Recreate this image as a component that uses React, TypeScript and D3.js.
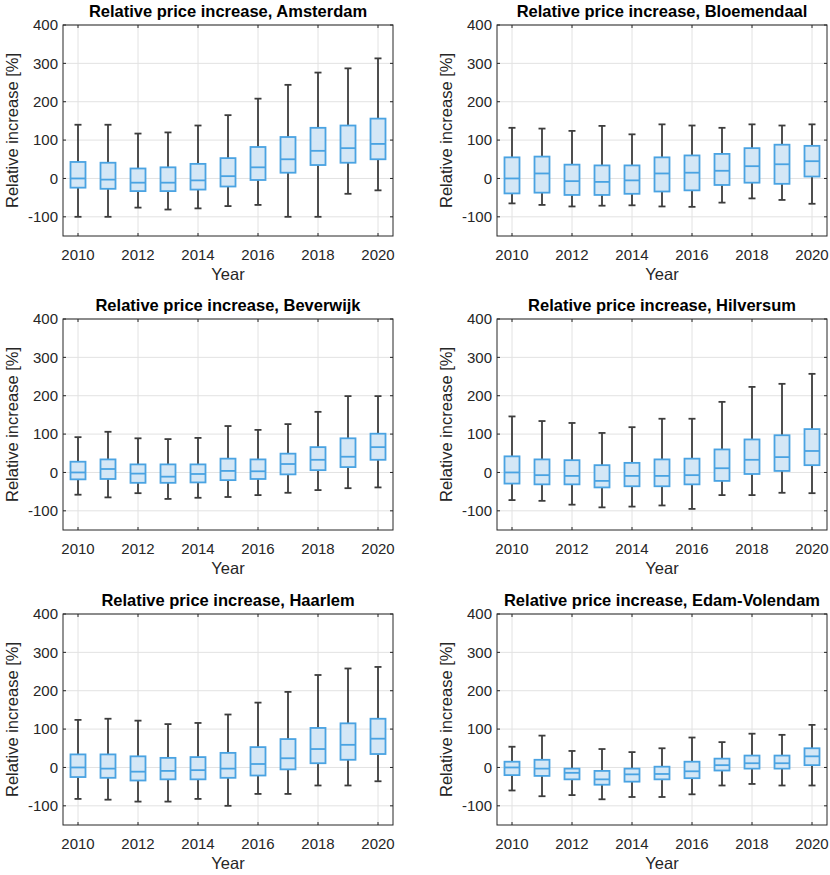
import { useEffect, useRef } from 'react';
import * as d3 from 'd3';

// 每年一個箱形: [下鬚, Q1, 中位數, Q3, 上鬚]
const years = [2010, 2011, 2012, 2013, 2014, 2015, 2016, 2017, 2018, 2019, 2020];
const yTicks = [-100, 0, 100, 200, 300, 400];
const xTicks = [2010, 2012, 2014, 2016, 2018, 2020];

const amsterdam = [
  [-100, -24, 0, 43, 140],
  [-100, -27, -3, 41, 140],
  [-76, -33, -11, 26, 117],
  [-81, -33, -11, 29, 120],
  [-78, -29, -5, 38, 138],
  [-72, -21, 6, 53, 165],
  [-69, -4, 29, 82, 208],
  [-100, 15, 50, 108, 244],
  [-100, 35, 72, 132, 276],
  [-40, 41, 79, 138, 287],
  [-31, 50, 90, 156, 313],
];
const bloemendaal = [
  [-65, -39, 0, 55, 132],
  [-69, -37, 13, 57, 130],
  [-73, -43, -7, 36, 124],
  [-71, -43, -9, 34, 137],
  [-70, -40, -5, 34, 115],
  [-73, -34, 13, 55, 141],
  [-74, -31, 15, 60, 138],
  [-63, -17, 20, 64, 132],
  [-52, -11, 32, 79, 141],
  [-56, -14, 37, 88, 138],
  [-66, 5, 45, 85, 141],
];
const beverwijk = [
  [-58, -18, 0, 28, 92],
  [-65, -17, 9, 34, 106],
  [-54, -27, -3, 21, 89],
  [-69, -27, -11, 21, 87],
  [-66, -26, -4, 21, 90],
  [-64, -20, 4, 36, 121],
  [-59, -17, 3, 34, 111],
  [-53, -5, 22, 49, 126],
  [-46, 6, 33, 66, 158],
  [-41, 14, 41, 89, 199],
  [-39, 33, 66, 101, 199],
];
const hilversum = [
  [-72, -29, 0, 42, 146],
  [-74, -31, -7, 34, 134],
  [-84, -31, -9, 32, 129],
  [-91, -39, -22, 19, 103],
  [-89, -36, -9, 25, 118],
  [-86, -36, -9, 34, 140],
  [-95, -31, -7, 36, 140],
  [-59, -22, 11, 60, 184],
  [-59, -4, 33, 86, 223],
  [-53, 4, 40, 97, 231],
  [-54, 19, 56, 113, 257],
];
const haarlem = [
  [-82, -25, 0, 34, 124],
  [-84, -27, -3, 34, 127],
  [-89, -34, -11, 29, 122],
  [-89, -31, -9, 25, 113],
  [-82, -31, -7, 27, 116],
  [-100, -27, -3, 38, 138],
  [-69, -21, 9, 53, 169],
  [-69, -5, 24, 74, 197],
  [-47, 11, 48, 103, 241],
  [-47, 20, 59, 115, 258],
  [-36, 35, 75, 127, 262],
];
const edamVolendam = [
  [-60, -20, 0, 15, 54],
  [-75, -22, -3, 20, 83],
  [-72, -31, -14, -3, 43],
  [-83, -45, -31, -9, 48],
  [-77, -37, -18, -3, 40],
  [-77, -31, -17, 2, 50],
  [-70, -28, -10, 15, 78],
  [-47, -8, 6, 23, 66],
  [-43, -3, 11, 31, 88],
  [-47, -3, 11, 31, 85],
  [-47, 6, 29, 50, 111],
];

const panels = [
  { name: 'Amsterdam', data: amsterdam },
  { name: 'Bloemendaal', data: bloemendaal },
  { name: 'Beverwijk', data: beverwijk },
  { name: 'Hilversum', data: hilversum },
  { name: 'Haarlem', data: haarlem },
  { name: 'Edam-Volendam', data: edamVolendam },
];

const FONT = '"Liberation Sans", Arial, sans-serif';
const INK = '#262626';

export default function App() {
  const svgRef = useRef<SVGSVGElement>(null);

  useEffect(() => {
    document.body.style.margin = '0';
    const svg = d3.select(svgRef.current);
    svg.selectAll('*').remove();

    const colLeft = [63, 497];
    const rowTop = [25, 319, 614];
    const w = 330;
    const h = 211;

    panels.forEach((p, i) => {
      const left = colLeft[i % 2];
      const top = rowTop[Math.floor(i / 2)];
      const g = svg.append('g').attr('transform', `translate(${left},${top})`);

      const x = d3.scaleLinear().domain([2009.5, 2020.5]).range([0, w]);
      const y = d3.scaleLinear().domain([-150, 400]).range([h, 0]);
      const boxW = x(2010.25) - x(2010);
      const capW = 3.5;

      // 格線
      g.selectAll('.gx')
        .data(xTicks)
        .join('line')
        .attr('x1', (d) => x(d))
        .attr('x2', (d) => x(d))
        .attr('y1', 0)
        .attr('y2', h)
        .attr('stroke', '#e2e2e2')
        .attr('stroke-width', 1);
      g.selectAll('.gy')
        .data(yTicks)
        .join('line')
        .attr('x1', 0)
        .attr('x2', w)
        .attr('y1', (d) => y(d))
        .attr('y2', (d) => y(d))
        .attr('stroke', '#e2e2e2')
        .attr('stroke-width', 1);

      // 箱形圖
      p.data.forEach((d, j) => {
        const cx = x(years[j]);
        const [lo, q1, med, q3, hi] = d;
        const wk = g.append('g').attr('stroke', '#3d3d3d').attr('stroke-width', 1.8);
        wk.append('line').attr('x1', cx).attr('x2', cx).attr('y1', y(hi)).attr('y2', y(q3));
        wk.append('line').attr('x1', cx).attr('x2', cx).attr('y1', y(q1)).attr('y2', y(lo));
        wk.append('line').attr('x1', cx - capW).attr('x2', cx + capW).attr('y1', y(hi)).attr('y2', y(hi));
        wk.append('line').attr('x1', cx - capW).attr('x2', cx + capW).attr('y1', y(lo)).attr('y2', y(lo));

        g.append('rect')
          .attr('x', cx - boxW)
          .attr('y', y(q3))
          .attr('width', boxW * 2)
          .attr('height', y(q1) - y(q3))
          .attr('fill', '#d4e7f6')
          .attr('stroke', '#4aa3e2')
          .attr('stroke-width', 1.8);
        g.append('line')
          .attr('x1', cx - boxW)
          .attr('x2', cx + boxW)
          .attr('y1', y(med))
          .attr('y2', y(med))
          .attr('stroke', '#4aa3e2')
          .attr('stroke-width', 1.8);
      });

      // 軸框與刻度
      g.append('rect')
        .attr('width', w)
        .attr('height', h)
        .attr('fill', 'none')
        .attr('stroke', INK)
        .attr('stroke-width', 1);
      const tk = 3;
      xTicks.forEach((t) => {
        g.append('line').attr('x1', x(t)).attr('x2', x(t)).attr('y1', h).attr('y2', h - tk).attr('stroke', INK);
        g.append('line').attr('x1', x(t)).attr('x2', x(t)).attr('y1', 0).attr('y2', tk).attr('stroke', INK);
      });
      yTicks.forEach((t) => {
        g.append('line').attr('x1', 0).attr('x2', tk).attr('y1', y(t)).attr('y2', y(t)).attr('stroke', INK);
        g.append('line').attr('x1', w).attr('x2', w - tk).attr('y1', y(t)).attr('y2', y(t)).attr('stroke', INK);
      });

      g.selectAll('.xl')
        .data(xTicks)
        .join('text')
        .attr('x', (d) => x(d))
        .attr('y', h + 24)
        .attr('text-anchor', 'middle')
        .attr('font-family', FONT)
        .attr('font-size', 15)
        .attr('fill', INK)
        .text((d) => d);
      g.selectAll('.yl')
        .data(yTicks)
        .join('text')
        .attr('x', -5)
        .attr('y', (d) => y(d))
        .attr('dy', '0.35em')
        .attr('text-anchor', 'end')
        .attr('font-family', FONT)
        .attr('font-size', 15)
        .attr('fill', INK)
        .text((d) => d);

      g.append('text')
        .attr('x', w / 2)
        .attr('y', -8)
        .attr('text-anchor', 'middle')
        .attr('font-family', FONT)
        .attr('font-size', 16.5)
        .attr('font-weight', 'bold')
        .attr('fill', '#000')
        .text(`Relative price increase, ${p.name}`);
      g.append('text')
        .attr('x', w / 2)
        .attr('y', h + 44)
        .attr('text-anchor', 'middle')
        .attr('font-family', FONT)
        .attr('font-size', 16.5)
        .attr('fill', INK)
        .text('Year');
      g.append('text')
        .attr('transform', `translate(-45,${h / 2}) rotate(-90)`)
        .attr('text-anchor', 'middle')
        .attr('font-family', FONT)
        .attr('font-size', 16.5)
        .attr('fill', INK)
        .text('Relative increase [%]');
    });
  }, []);

  return (
    <svg
      ref={svgRef}
      width={830}
      height={875}
      style={{ display: 'block', background: '#fff' }}
    />
  );
}
